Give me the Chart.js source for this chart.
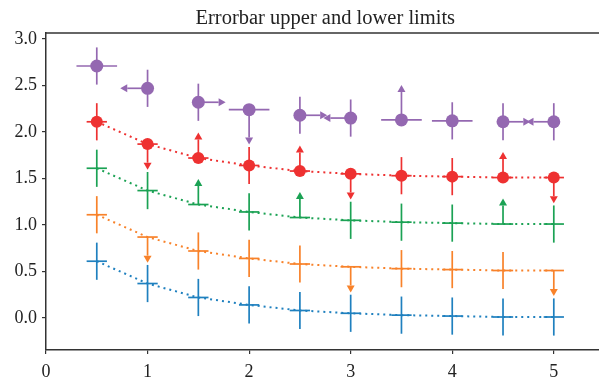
<!DOCTYPE html>
<html>
<head>
<meta charset="utf-8">
<script src="https://cdn.jsdelivr.net/npm/chart.js@4/dist/chart.umd.min.js"></script>
<style>
  html, body { margin: 0; padding: 0; background: #fff; overflow: hidden; }
  #wrap { width: 606px; height: 385px; }
  canvas { display: block; }
</style>
</head>
<body>
<div id="wrap"><canvas id="chart" width="606" height="385"></canvas></div>
<script>
// example data
const xValues = [0.5, 1.0, 1.5, 2.0, 2.5, 3.0, 3.5, 4.0, 4.5, 5.0];
const blueY   = [0.61, 0.37, 0.22, 0.14, 0.08, 0.05, 0.03, 0.02, 0.01, 0.01];
const orangeY = [1.11, 0.87, 0.72, 0.64, 0.58, 0.55, 0.53, 0.52, 0.51, 0.51];
const greenY  = [1.61, 1.37, 1.22, 1.14, 1.08, 1.05, 1.03, 1.02, 1.01, 1.01];
const redY    = [2.11, 1.87, 1.72, 1.64, 1.58, 1.55, 1.53, 1.52, 1.51, 1.51];
const purpleY = [2.71, 2.47, 2.32, 2.24, 2.18, 2.15, 2.13, 2.12, 2.11, 2.11];

const yErr = [0.2, 0.2, 0.2, 0.2, 0.2, 0.2, 0.2, 0.2, 0.2, 0.2];
const purpleYErr = [0.2, 0.2, 0.2, 0.3, 0.2, 0.2, 0.3, 0.2, 0.2, 0.2];
const xErr = 0.1;
const purpleXErr = 0.2;

// limit flags
const lolims = [0, 0, 1, 0, 1, 0, 0, 0, 1, 0];
const uplims = [0, 1, 0, 0, 0, 1, 0, 0, 0, 1];
const purpleLolims = [0, 0, 0, 0, 0, 0, 1, 0, 0, 0];
const purpleUplims = [0, 0, 0, 1, 0, 0, 0, 0, 0, 0];

const xTicks = [0, 1, 2, 3, 4, 5];
const yTicks = [0, 0.5, 1.0, 1.5, 2.0, 2.5, 3.0];

const titleText = 'Errorbar upper and lower limits';
const serif = "'Liberation Serif', 'DejaVu Serif', serif";

// matplotlib's axes run to 5.5; the window cuts it at about 5.45
const xAxisFull = 5.5;
const xShown = 5.45;

function pts(ys) {
    return xValues.map((x, i) => ({ x: x, y: ys[i] }));
}

const colors = {
    blue: '#1f80bf',
    orange: '#f8822a',
    green: '#1ba254',
    red: '#ee3131',
    purple: '#9468b1'
};

function series(data, color, extra) {
    return Object.assign({
        data: pts(data),
        borderColor: color,
        backgroundColor: color,
        showLine: true,
        borderWidth: 2,
        borderDash: [2, 4],
        pointRadius: 0,
        pointBorderWidth: 0
    }, extra);
}

const datasets = [
    series(blueY, colors.blue, {
        order: 4,
        errorBars: { xerr: xErr, yerr: yErr }
    }),
    series(orangeY, colors.orange, {
        order: 3,
        errorBars: { xerr: xErr, yerr: yErr, uplims: uplims }
    }),
    series(greenY, colors.green, {
        order: 2,
        errorBars: { xerr: xErr, yerr: yErr, lolims: lolims }
    }),
    series(redY, colors.red, {
        order: 1,
        pointRadius: 6,
        errorBars: { xerr: xErr, yerr: yErr, lolims: lolims, uplims: uplims }
    }),
    series(purpleY, colors.purple, {
        order: 0,
        showLine: false,
        pointRadius: 6.5,
        errorBars: {
            xerr: purpleXErr, yerr: purpleYErr,
            lolims: purpleLolims, uplims: purpleUplims,
            xlolims: lolims, xuplims: uplims
        }
    })
];

function caret(ctx, x, y, dir) {
    const w = 4, h = 7;
    ctx.beginPath();
    if (dir === 'up') { ctx.moveTo(x - w, y); ctx.lineTo(x + w, y); ctx.lineTo(x, y - h); }
    if (dir === 'down') { ctx.moveTo(x - w, y); ctx.lineTo(x + w, y); ctx.lineTo(x, y + h); }
    if (dir === 'left') { ctx.moveTo(x, y - w); ctx.lineTo(x, y + w); ctx.lineTo(x - h, y); }
    if (dir === 'right') { ctx.moveTo(x, y - w); ctx.lineTo(x, y + w); ctx.lineTo(x + h, y); }
    ctx.closePath();
    ctx.fill();
}

function seg(ctx, x1, y1, x2, y2) {
    ctx.beginPath();
    ctx.moveTo(x1, y1);
    ctx.lineTo(x2, y2);
    ctx.stroke();
}

// error bars drawn just before each dataset so markers sit on top
const errorBarPlugin = {
    id: 'errorBars',
    beforeDatasetDraw(chart, args) {
        const ds = chart.data.datasets[args.index];
        const eb = ds.errorBars;
        if (!eb) return;
        const xs = chart.scales.x, ys = chart.scales.y, ctx = chart.ctx;
        ctx.save();
        ctx.strokeStyle = ds.borderColor;
        ctx.fillStyle = ds.borderColor;
        ctx.lineWidth = 1.7;
        ctx.setLineDash([]);
        ds.data.forEach((p, i) => {
            const px = xs.getPixelForValue(p.x);
            const py = ys.getPixelForValue(p.y);
            const top = ys.getPixelForValue(p.y + eb.yerr[i]);
            const bot = ys.getPixelForValue(p.y - eb.yerr[i]);
            const left = xs.getPixelForValue(p.x - eb.xerr);
            const right = xs.getPixelForValue(p.x + eb.xerr);

            if (eb.lolims && eb.lolims[i]) {
                seg(ctx, px, py, px, top);
                caret(ctx, px, top, 'up');
            } else if (eb.uplims && eb.uplims[i]) {
                seg(ctx, px, py, px, bot);
                caret(ctx, px, bot, 'down');
            } else {
                seg(ctx, px, top, px, bot);
            }

            if (eb.xlolims && eb.xlolims[i]) {
                seg(ctx, px, py, right, py);
                caret(ctx, right, py, 'right');
            } else if (eb.xuplims && eb.xuplims[i]) {
                seg(ctx, px, py, left, py);
                caret(ctx, left, py, 'left');
            } else {
                seg(ctx, left, py, right, py);
            }
        });
        ctx.restore();
    }
};

// title centred over the full axes box, plus the top spine
const framePlugin = {
    id: 'frame',
    afterDraw(chart) {
        const a = chart.chartArea, ctx = chart.ctx;
        const xs = chart.scales.x;
        ctx.save();
        ctx.strokeStyle = '#333';
        ctx.lineWidth = 1.5;
        seg(ctx, a.left, a.top, a.right, a.top);
        ctx.fillStyle = '#222';
        ctx.font = '20.5px ' + serif;
        ctx.textAlign = 'center';
        ctx.textBaseline = 'alphabetic';
        ctx.fillText(titleText, xs.getPixelForValue(xAxisFull / 2), a.top - 9);
        ctx.restore();
    }
};

new Chart(document.getElementById('chart'), {
    type: 'scatter',
    data: { datasets: datasets },
    plugins: [errorBarPlugin, framePlugin],
    options: {
        responsive: false,
        animation: false,
        layout: { padding: { top: 33, right: 0, left: 0, bottom: 0 } },
        plugins: {
            legend: { display: false },
            tooltip: { enabled: false },
            title: { display: false }
        },
        scales: {
            x: {
                type: 'linear',
                min: 0,
                max: xShown,
                afterBuildTicks: s => { s.ticks = xTicks.map(v => ({ value: v })); },
                afterFit: s => { s.height = 35; },
                border: { display: true, color: '#333', width: 1.5 },
                grid: { drawOnChartArea: false, tickLength: 4, color: '#333', lineWidth: 1.2 },
                ticks: {
                    padding: 7,
                    color: '#222',
                    maxRotation: 0,
                    font: { family: serif, size: 18 },
                    callback: v => String(v)
                }
            },
            y: {
                type: 'linear',
                min: -0.345,
                max: 3.065,
                afterBuildTicks: s => { s.ticks = yTicks.map(v => ({ value: v })); },
                afterFit: s => { s.width = 46; },
                border: { display: true, color: '#333', width: 1.5 },
                grid: { drawOnChartArea: false, tickLength: 4, color: '#333', lineWidth: 1.2 },
                ticks: {
                    padding: 5,
                    color: '#222',
                    font: { family: serif, size: 18 },
                    callback: v => v.toFixed(1)
                }
            }
        }
    }
});
</script>
</body>
</html>
